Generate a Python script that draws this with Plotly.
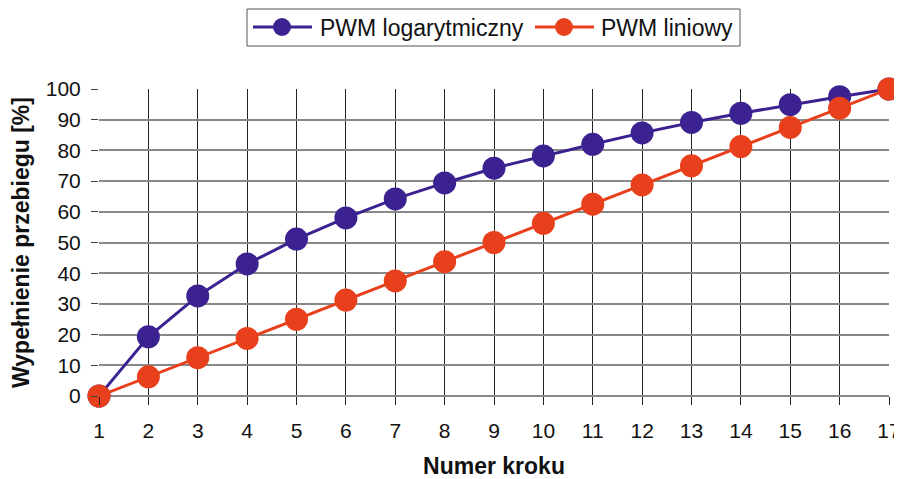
import plotly.graph_objects as go

steps = list(range(1, 18))
pwm_log = [0, 19.3, 32.6, 43, 51.1, 58, 64.2, 69.4, 74.2, 78.2, 82, 85.7, 89.1, 92.1, 94.9, 97.5, 100]
pwm_lin = [0, 6.25, 12.5, 18.75, 25, 31.25, 37.5, 43.75, 50, 56.25, 62.5, 68.75, 75, 81.25, 87.5, 93.75, 100]
y_ticks = [0, 10, 20, 30, 40, 50, 60, 70, 80, 90, 100]
series_names = ["PWM logarytmiczny", "PWM liniowy"]

PURPLE = "#3b2290"
RED = "#e8401c"
FONT = "Liberation Sans, Arial, sans-serif"

# page body has an 8px default margin; the figure is sized to fit the window
OFF = 8
W, H = 902 - OFF, 479 - OFF
L, R, T, B = 99 - OFF, 13, 89 - OFF, 83
PW, PH = W - L - R, H - T - B


def px(x):
    # screen pixel -> paper coordinate
    return (x - OFF - L) / PW


def py(y):
    return (H - B - (y - OFF)) / PH


fig = go.Figure()
fig.add_trace(go.Scatter(x=steps, y=pwm_log, mode="lines+markers", name=series_names[0],
                         line=dict(color=PURPLE, width=3),
                         marker=dict(color=PURPLE, size=23), cliponaxis=False, showlegend=False))
fig.add_trace(go.Scatter(x=steps, y=pwm_lin, mode="lines+markers", name=series_names[1],
                         line=dict(color=RED, width=3),
                         marker=dict(color=RED, size=23), cliponaxis=False, showlegend=False))

# manual legend
shapes = [dict(type="rect", xref="paper", yref="paper", x0=px(247), x1=px(740), y0=py(46), y1=py(9),
               line=dict(color="#555", width=1), fillcolor="white", layer="above")]
annotations = []
items = [(253, 312, 282, 318, PURPLE, series_names[0]), (535, 594, 564, 599, RED, series_names[1])]
for lx0, lx1, mx, tx, col, name in items:
    shapes.append(dict(type="line", xref="paper", yref="paper", x0=px(lx0), x1=px(lx1), y0=py(27), y1=py(27),
                       line=dict(color=col, width=3), layer="above"))
    shapes.append(dict(type="circle", xref="paper", yref="paper", xsizemode="pixel", ysizemode="pixel",
                       xanchor=px(mx), yanchor=py(27), x0=-9, x1=9, y0=-9, y1=9,
                       fillcolor=col, line=dict(color=col, width=0), layer="above"))
    annotations.append(dict(xref="paper", yref="paper", x=px(tx), y=py(28), xanchor="left", yanchor="middle",
                            text=name, showarrow=False, font=dict(size=23, color="#111", family=FONT)))

fig.update_layout(
    width=W, height=H,
    margin=dict(l=L, r=R, t=T, b=B, autoexpand=False),
    paper_bgcolor="white", plot_bgcolor="white",
    font=dict(family=FONT, size=21, color="#111"),
    showlegend=False,
    shapes=shapes, annotations=annotations,
    xaxis=dict(range=[1, 17], tickmode="array", tickvals=steps, ticktext=[str(s) for s in steps],
               showgrid=True, gridcolor="#222", gridwidth=1,
               ticks="outside", ticklen=8, tickcolor="#222", tickwidth=1,
               showline=False, zeroline=False, automargin=False, ticklabelstandoff=8,
               title=dict(text="<b>Numer kroku</b>", font=dict(size=23), standoff=17),
               tickfont=dict(size=21)),
    yaxis=dict(range=[0, 100], tickmode="array", tickvals=y_ticks,
               showgrid=True, gridcolor="#888", gridwidth=1.5,
               ticks="outside", ticklen=7, tickcolor="#444", tickwidth=1,
               zeroline=True, zerolinecolor="#888", zerolinewidth=2,
               showline=False, automargin=False, ticklabelstandoff=6,
               title=dict(text="<b>Wypełnienie przebiegu [%]</b>", font=dict(size=23), standoff=10),
               tickfont=dict(size=21)),
)

fig.write_html("out.html")
